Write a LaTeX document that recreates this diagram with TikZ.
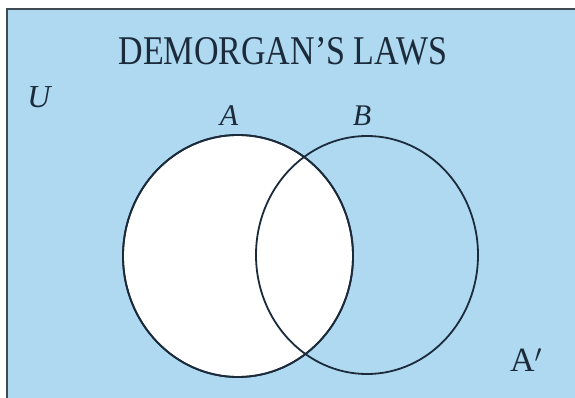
\documentclass[tikz,border=0pt]{standalone}
\usepackage{fontspec}
\setmainfont{Liberation Serif}
\usepackage{tikz}
\usetikzlibrary{positioning,shapes.geometric}
\usepackage{xcolor}
\definecolor{sky}{HTML}{AED9F0}
\definecolor{ink}{HTML}{1C2B3B}
\definecolor{frame}{HTML}{3E4B52}

\begin{document}
\begin{tikzpicture}[x=1pt, y=-1pt,
    setline/.style={draw=ink, line width=1.8pt, ellipse, inner sep=0pt}]
    \useasboundingbox (0,0) rectangle (575,398);
    \clip (0,0) rectangle (575,398);
    \fill[white] (0,0) rectangle (575,398);
    \fill[sky] (7,9) rectangle (590,410);
    \draw[frame, line width=2pt] (7,410) -- (7,9) -- (590,9);
    \node[ink, font=\fontsize{34}{40}\selectfont, yscale=1.2, transform shape] (title) at (283,51) {DEMORGAN'S LAWS};
    \node[ink, font=\fontsize{32}{36}\selectfont\itshape] (univ) at (39,97) {U};
    \node[fill=white, setline, minimum width=230, minimum height=242] (setA) at (238,256) {};
    \node[setline, minimum width=222, minimum height=238] (setB) at (367,255) {};
    \draw[ink, line width=1.8pt] (setA.center) ellipse (115 and 121);
    \node[ink, font=\fontsize{30}{34}\selectfont\itshape] (labA) at (229,116) {A};
    \node[ink, font=\fontsize{30}{34}\selectfont\itshape] (labB) at (362,116) {B};
    \node[ink, font=\fontsize{34}{40}\selectfont] (comp) at (526,360) {A$'$};
\end{tikzpicture}
\end{document}
